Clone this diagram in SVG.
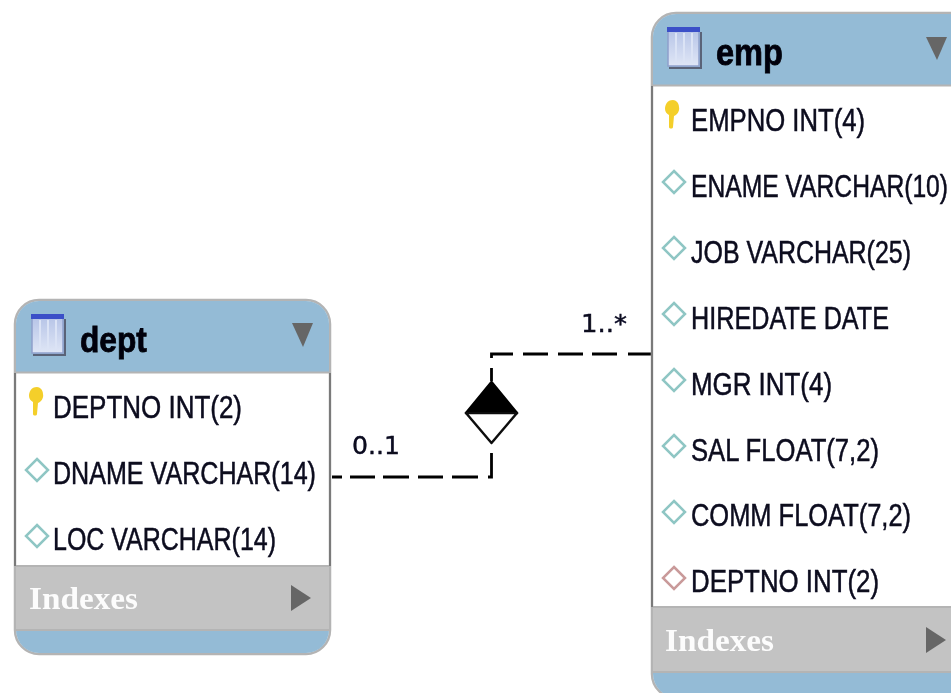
<svg xmlns="http://www.w3.org/2000/svg" width="951" height="693" viewBox="0 0 951 693">
<style>
.frame{fill:#fff;stroke:#b4b4b4;stroke-width:2.500}
.head{fill:#94bbd6}
.idx{fill:#c3c3c3}
.line{stroke:#b4b4b4;stroke-width:2}
.side{stroke:#7a7a7a;stroke-width:2;fill:none}
.title{font:bold 36px "Liberation Sans",sans-serif;fill:#000008;stroke:#000008;stroke-width:.8}
.col{font:32px "Liberation Sans",sans-serif;fill:#08081e;stroke:#08081e;stroke-width:.5}
.ix{font:bold 32px "Liberation Serif",serif;fill:#fcfcfc}
.mult{font:25px "DejaVu Sans",sans-serif;fill:#08081e;stroke:#08081e;stroke-width:.4}
.tri{fill:#666}
.conn{fill:none;stroke:#000;stroke-width:2.800}
.attr{fill:#fff;stroke:#8fc6c4;stroke-width:2.500}
.fk{fill:#fff;stroke:#c99a9a;stroke-width:2.500}
.key{fill:#f4cf2c}
.ic{fill:url(#icfill);stroke:#8fa0cc;stroke-width:1.500}
.icbar{fill:#3b4fc8}
.icl{stroke:#dbe3f5;stroke-width:2}
</style>
<defs>
<filter id="soft" x="-5%" y="-5%" width="110%" height="110%"><feGaussianBlur stdDeviation="0.6"/></filter>
<linearGradient id="icfill" x1="0" y1="0" x2="0" y2="1"><stop offset="0" stop-color="#b4c2e6"/><stop offset="1" stop-color="#dfe6f6"/></linearGradient>
<g id="tableicon">
<rect class="ic" x="0" y="0" width="31" height="38"/>
<rect class="icbar" x="-1" y="-1" width="33" height="5"/>
<path class="icl" d="M8 5V34M16 5V34M24 5V34"/>
<path d="M1 40H33V4" fill="none" stroke="#5a6478" stroke-width="2"/>
</g>
<path id="keyicon" class="key" d="M1 -15C-5 -15 -7 -10 -7 -6C-7 -3 -5 -1 -3 0L-3 12C-3 14 1 14 1 12L2 1C5 0 8 -4 7 -8C7 -12 4 -15 1 -15Z"/>
<path id="diamondicon" d="M0 -11L11 0L0 11L-11 0Z"/>
</defs>
<rect width="951" height="693" fill="#fff"/>
<g filter="url(#soft)">
<g id="connectors">
<path class="conn" d="M491.500 358V354H513M523 354H548M558 354H583M592 354H617M628 354H652M491.500 368V381"/>
<path class="conn" d="M332 477H342M350 477H375M383 477H409M418 477H443M452 477H478M488 477H491.500V453"/>
<path d="M491.500 382L517 413H466Z" fill="#000" stroke="#000" stroke-width="2.500" stroke-linejoin="round"/>
<path d="M466 413H517L491.500 443Z" fill="#fff" stroke="#111" stroke-width="2.500" stroke-linejoin="round"/>
<text class="mult" x="352" y="454" textLength="48" lengthAdjust="spacingAndGlyphs">0..1</text>
<text class="mult" x="581" y="332" textLength="46" lengthAdjust="spacingAndGlyphs">1..*</text>
</g>
<g id="dept">
<rect class="frame" x="15" y="300" width="315" height="354" rx="24"/>
<path class="head" d="M16 372V324A23 23 0 0 1 39 301H306A23 23 0 0 1 329 324V372Z"/>
<rect x="16" y="566" width="313" height="64" class="idx"/>
<path class="head" d="M16 630H329A23 23 0 0 1 306 653H39A23 23 0 0 1 16 630Z"/>
<path class="line" d="M15 372.500H330M15 566H330M15 630H330"/>
<path class="side" d="M15 373V566M330 373V566"/>
<use href="#tableicon" x="32" y="315"/>
<text class="title" transform="translate(80 352) scale(.88 1)" x="0" y="0" textLength="76" lengthAdjust="spacingAndGlyphs">dept</text>
<path class="tri" d="M292 323H313L303 347Z"/>
<use href="#keyicon" x="36" y="402"/>
<text class="col" transform="translate(53 418) scale(.834 1)" x="0" y="0" textLength="226.600" lengthAdjust="spacingAndGlyphs">DEPTNO INT(2)</text>
<use href="#diamondicon" class="attr" x="37" y="470"/>
<text class="col" transform="translate(53 484) scale(.779 1)" x="0" y="0" textLength="337.600" lengthAdjust="spacingAndGlyphs">DNAME VARCHAR(14)</text>
<use href="#diamondicon" class="attr" x="37" y="536"/>
<text class="col" transform="translate(53 550) scale(.774 1)" x="0" y="0" textLength="288.100" lengthAdjust="spacingAndGlyphs">LOC VARCHAR(14)</text>
<text class="ix" x="29" y="609" textLength="109" lengthAdjust="spacingAndGlyphs">Indexes</text>
<path class="tri" d="M291 585L311 598L291 611Z"/>
</g>
<g id="emp">
<rect class="frame" x="652" y="13" width="400" height="685" rx="24"/>
<path class="head" d="M653 85V37A23 23 0 0 1 676 14H951V85Z"/>
<rect x="653" y="607" width="298" height="65" class="idx"/>
<path class="head" d="M653 672V674A23 23 0 0 0 676 697H951V672Z"/>
<path class="line" d="M652 85.500H951M652 607H951M652 672H951"/>
<path class="side" d="M652 86V607"/>
<use href="#tableicon" x="668" y="28"/>
<text class="title" transform="translate(716 65) scale(.905 1)" x="0" y="0" textLength="74" lengthAdjust="spacingAndGlyphs">emp</text>
<path class="tri" d="M926 37H947L937 60Z"/>
<use href="#keyicon" x="672" y="115"/>
<text class="col" transform="translate(691 131) scale(.802 1)" x="0" y="0" textLength="217" lengthAdjust="spacingAndGlyphs">EMPNO INT(4)</text>
<use href="#diamondicon" class="attr" x="674" y="182"/>
<text class="col" transform="translate(691 197) scale(.765 1)" x="0" y="0" textLength="336" lengthAdjust="spacingAndGlyphs">ENAME VARCHAR(10)</text>
<use href="#diamondicon" class="attr" x="674" y="248"/>
<text class="col" transform="translate(691 263) scale(.773 1)" x="0" y="0" textLength="284.600" lengthAdjust="spacingAndGlyphs">JOB VARCHAR(25)</text>
<use href="#diamondicon" class="attr" x="674" y="314"/>
<text class="col" transform="translate(691 329) scale(.728 1)" x="0" y="0" textLength="272" lengthAdjust="spacingAndGlyphs">HIREDATE DATE</text>
<use href="#diamondicon" class="attr" x="674" y="380"/>
<text class="col" transform="translate(691 395) scale(.809 1)" x="0" y="0" textLength="174.300" lengthAdjust="spacingAndGlyphs">MGR INT(4)</text>
<use href="#diamondicon" class="attr" x="674" y="446"/>
<text class="col" transform="translate(691 461) scale(.789 1)" x="0" y="0" textLength="238.300" lengthAdjust="spacingAndGlyphs">SAL FLOAT(7,2)</text>
<use href="#diamondicon" class="attr" x="674" y="512"/>
<text class="col" transform="translate(691 526) scale(.788 1)" x="0" y="0" textLength="279.200" lengthAdjust="spacingAndGlyphs">COMM FLOAT(7,2)</text>
<use href="#diamondicon" class="fk" x="674" y="578"/>
<text class="col" transform="translate(691 592) scale(.834 1)" x="0" y="0" textLength="225.400" lengthAdjust="spacingAndGlyphs">DEPTNO INT(2)</text>
<text class="ix" x="665" y="651" textLength="109" lengthAdjust="spacingAndGlyphs">Indexes</text>
<path class="tri" d="M926 627L946 640L926 653Z"/>
</g>
</g>
</svg>
